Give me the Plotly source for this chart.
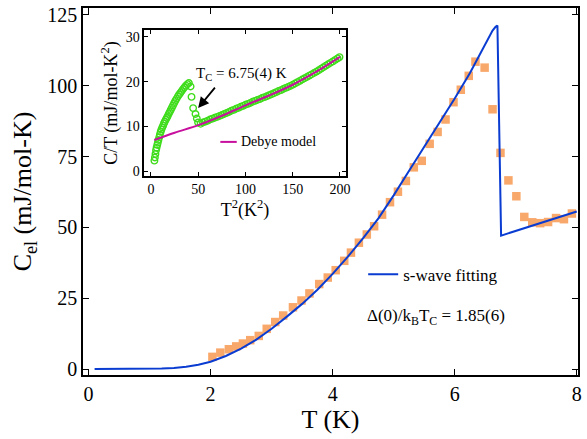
import plotly.graph_objects as go

# ---- main panel: electronic specific heat ----
T_data = [2.03, 2.16, 2.30, 2.42, 2.53, 2.65, 2.79, 2.92, 3.06, 3.19, 3.35, 3.49, 3.62,
          3.78, 3.92, 4.05, 4.19, 4.30, 4.43, 4.56, 4.68, 4.81, 4.94, 5.07, 5.20, 5.33,
          5.46, 5.59, 5.72, 5.85, 5.98, 6.10, 6.23, 6.34, 6.49, 6.62, 6.75, 6.88, 7.01,
          7.14, 7.27, 7.40, 7.53, 7.66, 7.79, 7.92]
Cel_data = [4.3, 5.8, 7.0, 8.0, 9.0, 10.2, 11.7, 14.2, 16.6, 18.9, 21.8, 24.2, 26.7,
            30.0, 32.3, 34.9, 38.2, 41.1, 44.6, 47.5, 50.4, 54.5, 58.9, 62.6, 66.4, 71.2,
            73.5, 79.5, 83.7, 88.1, 94.2, 98.6, 103.5, 108.5, 106.4, 91.7, 76.3, 66.6, 61.0,
            53.7, 51.8, 51.5, 51.9, 53.3, 52.9, 54.9]

T_fit = [0.1, 0.5, 0.8, 1.0, 1.2, 1.4, 1.6, 1.8, 2.0, 2.25, 2.5, 2.75, 3.0, 3.25, 3.5,
         3.75, 4.0, 4.25, 4.5, 4.75, 5.0, 5.25, 5.5, 5.75, 6.0, 6.25, 6.45, 6.55, 6.62,
         6.67, 6.70, 6.76, 8.0]
Cel_fit = [0.0, 0.0, 0.03, 0.1, 0.22, 0.4, 0.8, 1.5, 2.6, 4.6, 7.2, 10.4, 14.2, 18.5, 23.0,
           28.0, 33.6, 39.7, 46.2, 53.2, 61.3, 69.9, 78.4, 86.9, 95.5, 104.5, 112.5, 116.8, 119.5,
           120.8, 121.3, 47.1, 55.6]

# ---- inset: C/T vs T^2 ----
T2_data = [3.6, 4.1, 4.7, 5.3, 5.9, 6.6, 7.2, 7.9, 8.7, 9.4, 10.2, 11.0, 11.9, 12.8, 13.7,
           14.6, 15.6, 16.6, 17.6, 18.7, 19.8, 20.9, 22.1, 23.3, 24.5, 25.7, 27.0, 28.4,
           29.7, 31.1, 32.5, 34.0, 35.5, 37.0, 38.6, 40.1, 41.9, 42.9, 44.6, 47.1, 48.5,
           49.8, 52.5, 55.0, 57.5, 60.0, 62.5, 65.0, 67.5, 70.0, 72.5, 75.0, 77.5, 80.0,
           82.5, 85.0, 87.5, 90.0, 92.5, 95.0, 97.5, 100.0, 102.5, 105.0, 107.5, 110.0,
           112.5, 115.0, 117.5, 120.0, 122.5, 125.0, 127.5, 130.0, 132.5, 135.0, 137.5,
           140.0, 142.5, 145.0, 147.5, 150.0, 152.5, 155.0, 157.5, 160.0, 162.5, 165.0,
           167.5, 170.0, 172.5, 175.0, 177.5, 180.0, 182.5, 185.0, 187.5, 190.0, 192.5,
           195.0, 197.5, 199.5]
CT_data = [2.4, 3.1, 3.9, 4.7, 5.3, 5.9, 6.4, 7.0, 7.6, 8.2, 8.8, 9.3, 9.8, 10.2, 10.7,
           11.1, 11.5, 11.9, 12.3, 12.8, 13.25, 13.7, 14.2, 14.7, 15.2, 15.7, 16.2, 16.7,
           17.1, 17.5, 17.9, 18.35, 18.75, 19.1, 19.45, 19.7, 18.9, 16.6, 14.1, 12.8, 11.8,
           10.9, 10.6, 10.9, 11.1, 11.3, 11.55, 11.75, 11.95, 12.15, 12.35, 12.55, 12.8, 13.0,
           13.25, 13.5, 13.7, 13.95, 14.15, 14.4, 14.6, 14.85, 15.05, 15.25, 15.5, 15.7,
           15.9, 16.1, 16.35, 16.55, 16.75, 16.95, 17.2, 17.4, 17.65, 17.9, 18.1,
           18.35, 18.6, 18.8, 19.05, 19.3, 19.59, 19.88, 20.17, 20.46, 20.75, 21.04,
           21.33, 21.62, 21.91, 22.2, 22.53, 22.86, 23.19, 23.52, 23.85, 24.18, 24.51,
           24.84, 25.17, 25.45]

T2_debye = [3.5, 25, 50, 75, 100, 125, 150, 175, 200]
CT_debye = [7.0, 8.6, 10.3, 12.4, 14.7, 16.9, 19.3, 22.2, 25.5]

main_ticks_x = [0, 2, 4, 6, 8]
main_ticks_y = [0, 25, 50, 75, 100, 125]
inset_ticks_x = [0, 50, 100, 150, 200]
inset_ticks_y = [0, 10, 20, 30]

SERIF = "Liberation Serif, Times New Roman, serif"
BLUE = "#0A3CD2"
ORANGE = "#F9A86B"
GREEN = "#3FDC1C"
MAGENTA = "#C8109E"

fig = go.Figure()

fig.add_trace(go.Scatter(
    x=T_data, y=Cel_data, mode="markers", showlegend=False,
    marker=dict(symbol="square", size=8.5, color=ORANGE, line=dict(width=0)),
    xaxis="x", yaxis="y"))
fig.add_trace(go.Scatter(
    x=T_fit, y=Cel_fit, mode="lines", name="s-wave fitting",
    line=dict(color=BLUE, width=2), xaxis="x", yaxis="y"))

fig.add_trace(go.Scatter(
    x=T2_data, y=CT_data, mode="markers", showlegend=False,
    marker=dict(symbol="circle-open", size=6.5, color=GREEN, line=dict(width=1.4, color=GREEN)),
    xaxis="x2", yaxis="y2"))
fig.add_trace(go.Scatter(
    x=T2_debye, y=CT_debye, mode="lines", showlegend=False, name="Debye model",
    line=dict(color=MAGENTA, width=2, shape="spline"), xaxis="x2", yaxis="y2"))

axis_common = dict(showline=True, linecolor="black", linewidth=1.5, mirror="allticks",
                   ticks="inside", tickcolor="black", showgrid=False, zeroline=False)

fig.update_layout(
    width=587, height=439,
    margin=dict(l=83, r=4, t=5, b=64),
    paper_bgcolor="white", plot_bgcolor="white",
    font=dict(family=SERIF, color="black"),
    xaxis=dict(**axis_common, range=[-0.09, 8.02], tickvals=main_ticks_x, ticklen=6, tickwidth=1,
               tickfont=dict(size=20, family=SERIF),
               title=dict(text="T (K)", font=dict(size=26, family=SERIF), standoff=6)),
    yaxis=dict(**axis_common, range=[-2.1, 127.45], tickvals=main_ticks_y, ticklen=6, tickwidth=1,
               tickfont=dict(size=20, family=SERIF),
               title=dict(text="C<sub>el</sub> (mJ/mol-K)", font=dict(size=26, family=SERIF), standoff=8)),
    xaxis2=dict(**axis_common, domain=[0.124, 0.5306], anchor="y2", range=[-7, 206],
                tickvals=inset_ticks_x, ticklen=4, tickwidth=1,
                tickfont=dict(size=14, family=SERIF),
                title=dict(text="T<sup>2</sup>(K<sup>2</sup>)", font=dict(size=18, family=SERIF), standoff=2)),
    yaxis2=dict(**axis_common, domain=[0.543, 0.939], anchor="x2", range=[-0.95, 31.4],
                tickvals=inset_ticks_y, ticklen=4, tickwidth=1,
                tickfont=dict(size=14, family=SERIF),
                title=dict(text="C/T (mJ/mol-K<sup>2</sup>)", font=dict(size=18, family=SERIF), standoff=4)),
    legend=dict(x=0.566, y=0.273, xanchor="left", yanchor="middle",
                bgcolor="rgba(0,0,0,0)", font=dict(size=17, family=SERIF),
                itemwidth=30, tracegroupgap=0),
    showlegend=True,
)

# inset legend (Debye model)
fig.add_shape(type="line", xref="paper", yref="paper",
              x0=(221.7 - 83) / 500, x1=(238.3 - 83) / 500,
              y0=(375 - 140) / 370, y1=(375 - 140) / 370,
              line=dict(color=MAGENTA, width=2))
fig.add_annotation(xref="paper", yref="paper", x=(241 - 83) / 500, y=(375 - 140) / 370,
                   xanchor="left", yanchor="middle", showarrow=False,
                   text="Debye model", font=dict(size=14, family=SERIF, color="black"))

# Tc annotation with arrow
fig.add_annotation(xref="paper", yref="paper", x=(195 - 83) / 500, y=(375 - 72) / 370,
                   xanchor="left", yanchor="middle", showarrow=False,
                   text="T<sub>C</sub> = 6.75(4) K", font=dict(size=15, family=SERIF, color="black"))
fig.add_annotation(xref="x2", yref="y2", x=49.9, y=14.1, text="", showarrow=True,
                   ax=18, ay=-22, arrowhead=2, arrowsize=1.2, arrowwidth=1.8, arrowcolor="black")

# gap ratio annotation
fig.add_annotation(xref="paper", yref="paper", x=(368 - 83) / 500, y=(375 - 317) / 370,
                   xanchor="left", yanchor="middle", showarrow=False,
                   text="Δ(0)/k<sub>B</sub>T<sub>C</sub> = 1.85(6)",
                   font=dict(size=17, family=SERIF, color="black"))

fig.write_html("out.html", config={"displayModeBar": False},
               post_script="document.body.style.margin='0';document.body.style.overflow='hidden';")
